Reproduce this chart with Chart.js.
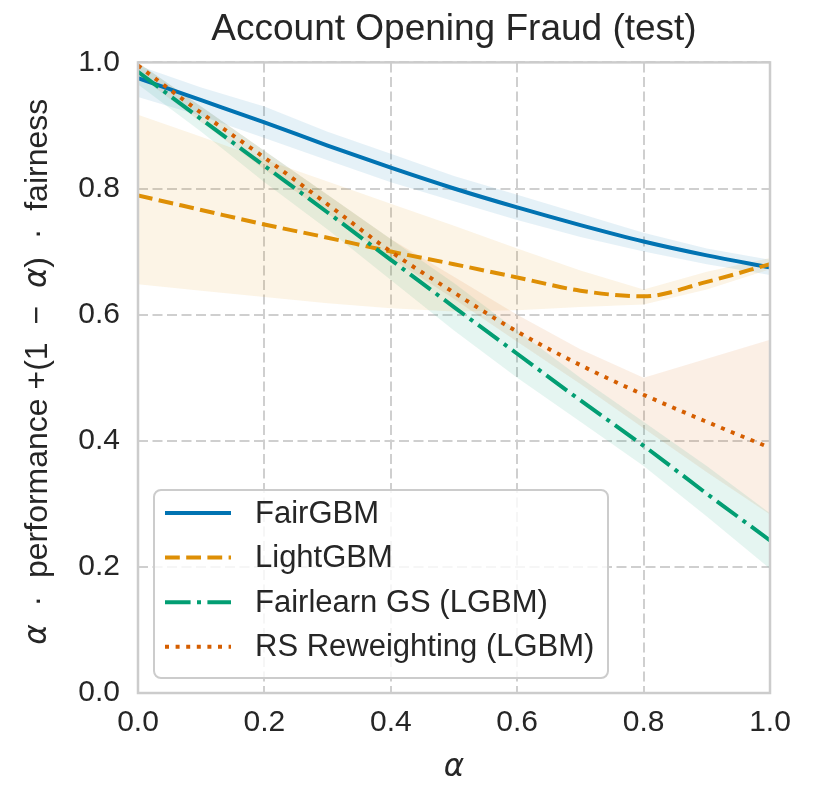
<!DOCTYPE html>
<html>
<head>
<meta charset="utf-8">
<script src="https://cdn.jsdelivr.net/npm/chart.js@4"></script>
<style>
  body { margin: 0; background: #fff; }
  #wrap { width: 814px; height: 812px; }
</style>
</head>
<body>
<div id="wrap"><canvas id="chart" width="814" height="812"></canvas></div>
<script>
// values
const alphas = [0, 0.1, 0.2, 0.3, 0.4, 0.5, 0.6, 0.7, 0.8, 0.9, 1.0];

const fairgbm    = [0.975, 0.94, 0.905, 0.868, 0.833, 0.80, 0.77, 0.742, 0.716, 0.694, 0.675];
const fairgbmLo  = [0.945, 0.915, 0.88, 0.845, 0.81, 0.78, 0.75, 0.723, 0.70, 0.68, 0.663];
const fairgbmHi  = [0.995, 0.96, 0.93, 0.89, 0.855, 0.82, 0.79, 0.76, 0.73, 0.705, 0.687];

const lightgbm   = [0.789, 0.766, 0.743, 0.722, 0.70, 0.68, 0.659, 0.638, 0.629, 0.652, 0.68];
const lightgbmLo = [0.648, 0.638, 0.628, 0.618, 0.61, 0.605, 0.607, 0.612, 0.616, 0.64, 0.672];
const lightgbmHi = [0.917, 0.882, 0.846, 0.811, 0.776, 0.741, 0.705, 0.67, 0.64, 0.668, 0.69];

const fairlearn   = [0.985, 0.91, 0.836, 0.762, 0.687, 0.612, 0.538, 0.464, 0.392, 0.316, 0.242];
const fairlearnLo = [0.965, 0.89, 0.81, 0.735, 0.655, 0.575, 0.50, 0.43, 0.36, 0.28, 0.197];
const fairlearnHi = [1.0, 0.93, 0.86, 0.79, 0.72, 0.65, 0.575, 0.50, 0.43, 0.36, 0.285];

const rsreweight   = [0.995, 0.92, 0.849, 0.775, 0.70, 0.635, 0.573, 0.52, 0.473, 0.43, 0.389];
const rsreweightLo = [0.98, 0.905, 0.83, 0.76, 0.69, 0.625, 0.557, 0.49, 0.42, 0.35, 0.283];
const rsreweightHi = [1.0, 0.93, 0.86, 0.79, 0.72, 0.66, 0.60, 0.545, 0.50, 0.53, 0.56];

const labels = ['FairGBM', 'LightGBM', 'Fairlearn GS (LGBM)', 'RS Reweighting (LGBM)'];
const colors = ['#0173b2', '#de8f05', '#029e73', '#d55e00'];
const bands  = ['rgba(1,115,178,0.1)', 'rgba(222,143,5,0.1)', 'rgba(2,158,115,0.1)', 'rgba(213,94,0,0.1)'];
const dashes = [[], [14.8, 6.4], [25.6, 6.4, 4, 6.4], [4, 6.6]];
const xTicks = [0, 0.2, 0.4, 0.6, 0.8, 1.0];

const means = [fairgbm, lightgbm, fairlearn, rsreweight];
const lows  = [fairgbmLo, lightgbmLo, fairlearnLo, rsreweightLo];
const highs = [fairgbmHi, lightgbmHi, fairlearnHi, rsreweightHi];

function pts(arr) {
    return arr.map((v, i) => ({x: alphas[i], y: v}));
}

const FONT = "'Liberation Sans', Arial, sans-serif";
const datasets = [];

// bands first (lower edge then upper edge filled down to it)
for (let i = 0; i < 4; i++) {
    datasets.push({
        data: pts(lows[i]), borderWidth: 0, pointRadius: 0, fill: false,
        tension: 0, order: 20 + i
    });
    datasets.push({
        data: pts(highs[i]), borderWidth: 0, pointRadius: 0, fill: '-1',
        backgroundColor: bands[i], tension: 0, order: 20 + i
    });
}
for (let i = 0; i < 4; i++) {
    datasets.push({
        label: labels[i], data: pts(means[i]), borderColor: colors[i],
        borderWidth: 4, borderDash: dashes[i], pointRadius: 0, fill: false,
        cubicInterpolationMode: 'monotone', borderCapStyle: 'butt', order: 4 - i
    });
}

// plot frame, axis titles and the legend box
const extras = {
    id: 'extras',
    afterDatasetsDraw(chart) {
        const ctx = chart.ctx;
        const a = chart.chartArea;
        ctx.save();
        ctx.strokeStyle = '#cccccc';
        ctx.lineWidth = 2.5;
        ctx.strokeRect(a.left, a.top, a.right - a.left, a.bottom - a.top);

        // x label
        ctx.fillStyle = '#262626';
        ctx.textAlign = 'center';
        ctx.textBaseline = 'middle';
        ctx.font = "oblique 31px 'DejaVu Sans'";
        ctx.fillText('α', (a.left + a.right) / 2, 768);

        // y label with italic alphas
        const it = "oblique 31px 'DejaVu Sans'";
        const rm = '32px ' + FONT;
        const parts = [
            ['α', it],
            ['  ·  performance +(1  −  ', rm],
            ['α', it],
            [')  ·  fairness', rm]
        ];
        let total = 0;
        parts.forEach(p => { ctx.font = p[1]; total += ctx.measureText(p[0]).width; });
        ctx.translate(38, (a.top + a.bottom) / 2 - 6);
        ctx.rotate(-Math.PI / 2);
        ctx.textAlign = 'left';
        let x = -total / 2;
        parts.forEach(p => {
            ctx.font = p[1];
            ctx.fillText(p[0], x, 0);
            x += ctx.measureText(p[0]).width;
        });
        ctx.restore();

        // legend
        ctx.save();
        ctx.beginPath();
        ctx.roundRect(154, 490, 454, 188, 7);
        ctx.fillStyle = 'rgba(255,255,255,0.8)';
        ctx.fill();
        ctx.strokeStyle = '#cccccc';
        ctx.lineWidth = 2;
        ctx.stroke();
        ctx.font = '31px ' + FONT;
        ctx.textBaseline = 'middle';
        for (let i = 0; i < 4; i++) {
            const y = 513 + i * 44.6;
            ctx.beginPath();
            ctx.setLineDash(dashes[i]);
            ctx.strokeStyle = colors[i];
            ctx.lineWidth = 4;
            ctx.moveTo(165, y);
            ctx.lineTo(231, y);
            ctx.stroke();
            ctx.setLineDash([]);
            ctx.fillStyle = '#262626';
            ctx.fillText(labels[i], 255, y + 1);
        }
        ctx.restore();
    }
};

new Chart(document.getElementById('chart'), {
    type: 'line',
    data: {datasets: datasets},
    options: {
        responsive: false,
        animation: false,
        devicePixelRatio: 1,
        layout: {padding: {left: 0, right: 44, top: 0, bottom: 0}},
        plugins: {
            legend: {display: false},
            tooltip: {enabled: false},
            filler: {drawTime: 'beforeDatasetsDraw'},
            title: {
                display: true,
                fullSize: false,
                text: 'Account Opening Fraud (test)',
                color: '#262626',
                font: {family: FONT, size: 37, weight: 'normal'},
                padding: {top: 8, bottom: 10}
            }
        },
        scales: {
            x: {
                type: 'linear', min: 0, max: 1,
                afterBuildTicks: s => { s.ticks = xTicks.map(v => ({value: v})); },
                afterFit: s => { s.height = 119; },
                grid: {color: '#cfcfcf', lineWidth: 2, drawTicks: false},
                border: {display: false, dash: [10, 4.5]},
                ticks: {
                    padding: 12, color: '#262626', maxRotation: 0,
                    font: {family: FONT, size: 30},
                    callback: v => v.toFixed(1)
                }
            },
            y: {
                min: 0, max: 1,
                afterFit: s => { s.width = 138; },
                grid: {color: '#cfcfcf', lineWidth: 2, drawTicks: false},
                border: {display: false, dash: [10, 4.5]},
                ticks: {
                    stepSize: 0.2, padding: 18, color: '#262626',
                    font: {family: FONT, size: 30},
                    callback: v => v.toFixed(1)
                }
            }
        }
    },
    plugins: [extras]
});
</script>
</body>
</html>
